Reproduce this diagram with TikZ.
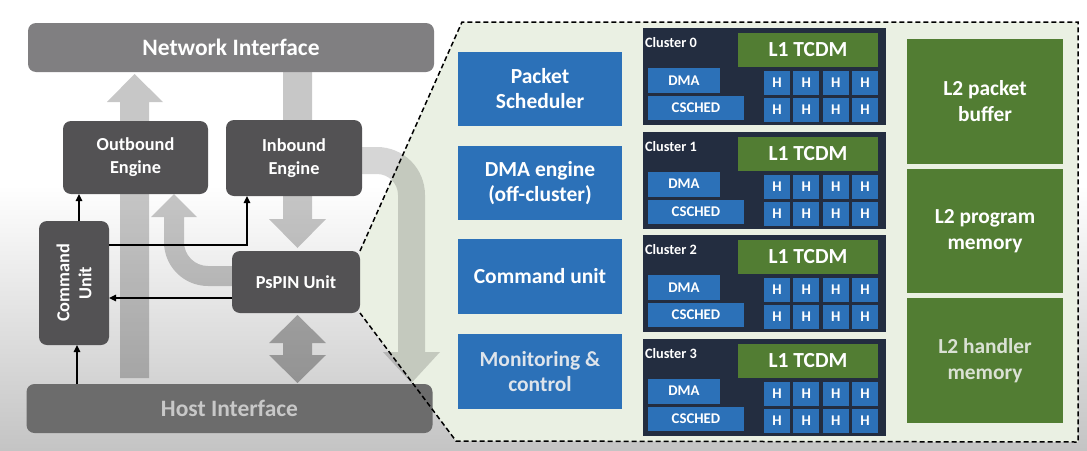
\documentclass[tikz,border=0pt]{standalone}
\usepackage{fontspec}
\setmainfont{Carlito}
\usetikzlibrary{arrows.meta,calc}
\definecolor{netgray}{RGB}{128,127,129}
\definecolor{hostgray}{RGB}{108,108,108}
\definecolor{boxgray}{RGB}{83,82,84}
\definecolor{pblue}{RGB}{44,113,184}
\definecolor{pnavy}{RGB}{35,45,64}
\definecolor{pgreen}{RGB}{82,125,51}
\definecolor{palegreen}{RGB}{234,240,227}
\definecolor{bottomgray}{RGB}{196,196,196}
\pgfdeclarelayer{bg}
\pgfdeclarelayer{arr}
\pgfsetlayers{bg,arr,main}
\begin{document}
\begin{tikzpicture}[x=1pt,y=-1pt,
  every node/.style={inner sep=0pt, outer sep=0pt, text=white, align=center},
  gbox/.style={fill=boxgray, rounded corners=8pt, font=\fontsize{18.3}{23}\selectfont\bfseries},
  ifbox/.style={rounded corners=8pt, minimum width=406pt, minimum height=49pt, font=\fontsize{23.5}{26}\selectfont\bfseries},
  bbox/.style={fill=pblue, minimum width=164pt, minimum height=74pt, font=\fontsize{21.5}{25}\selectfont\bfseries},
  clbox/.style={fill=pnavy, minimum width=243pt, minimum height=97pt, anchor=north west},
  cllabel/.style={font=\fontsize{14.3}{16}\selectfont\bfseries, anchor=west},
  tcdm/.style={fill=pgreen, minimum width=140pt, minimum height=34pt, anchor=north west, font=\fontsize{21.5}{23}\selectfont\bfseries},
  smallblue/.style={fill=pblue, anchor=north west, font=\fontsize{14.8}{16}\selectfont\bfseries},
  l2box/.style={fill=pgreen, minimum width=156pt, minimum height=125pt, font=\fontsize{21.4}{26}\selectfont\bfseries},
  blk/.style={draw=black, line width=1.4pt, -{Triangle[length=7pt,width=6.5pt]}},
  bigarrow/.style={fill=black, fill opacity=0.22},
  dashline/.style={draw=black, line width=1.5pt, dash pattern=on 5pt off 3pt}
]
\useasboundingbox (0,0) rectangle (1087,450);

% ---------- left part nodes ----------
\node[ifbox, fill=netgray] (net) at (231,47.5) {Network Interface};
\node[ifbox, fill=hostgray, text={rgb,255:red,200;green,200;blue,200}] (host) at (229.5,408.5) {Host Interface};
\node[gbox, minimum width=145pt, minimum height=73pt] (out) at (135.5,157.5) {Outbound\\Engine};
\node[gbox, minimum width=136pt, minimum height=76pt] (inb) at (294,158) {Inbound\\Engine};
\node[gbox, minimum width=70pt, minimum height=124pt] (cmd) at (74,283) {};
\node[rotate=90, font=\fontsize{18.3}{22}\selectfont\bfseries] (cmdt) at (cmd.center) {Command\\Unit};
\node[gbox, minimum width=128pt, minimum height=62pt] (psp) at (296,282) {PsPIN Unit};

% ---------- background ----------
\begin{pgfonlayer}{bg}
  \fill[white] (0,0) rectangle (1087,450);
  \shade[top color=white, bottom color=bottomgray] (0,185) rectangle (1087,450);
  \fill[palegreen] (psp.north east) -- (462,22) -- (1078,22) -- (1078,442) -- (456,441) -- (psp.south east) -- cycle;
\end{pgfonlayer}

% ---------- big translucent arrows ----------
\begin{pgfonlayer}{arr}
  % host -> network
  \fill[bigarrow] (120,378) -- (120,102) -- (107,102) -- (134.5,74) -- (163,102) -- (149,102) -- (149,378) -- cycle;
  % network -> inbound -> pspin
  \fill[bigarrow] (283,72) -- (283,219) -- (269,219) -- (297.5,248) -- (326,219) -- (312,219) -- (312,72) -- cycle;
  % pspin <-> host
  \fill[bigarrow, fill opacity=0.3] (297.5,315) -- (326,343) -- (312,343) -- (312,355) -- (326,355) -- (297.5,383)
     -- (269,355) -- (283,355) -- (283,343) -- (269,343) -- cycle;
  % pspin -> outbound (U-turn)
  \fill[bigarrow] (240,286) -- (208,286) arc[start angle=90, end angle=180, radius=44] -- (164,217) -- (151,217)
     -- (174,194) -- (197,217) -- (184,217) -- (184,242) arc[start angle=180, end angle=90, radius=24] -- (240,266) -- cycle;
  % inbound -> down (big U-turn)
  \fill[bigarrow, fill opacity=0.16] (355,147) -- (377,147) arc[start angle=270, end angle=360, radius=48] -- (425,352)
     -- (440,352) -- (411.5,383) -- (383,352) -- (398,352) -- (398,195) arc[start angle=0, end angle=-90, radius=21]
     -- (355,174) -- cycle;
\end{pgfonlayer}

% ---------- thin black arrows ----------
\coordinate (c1) at (79,0);
\coordinate (c2) at (247,245);
\coordinate (c3) at (0,298);
\coordinate (c4) at (77,0);
\draw[blk] (c1 |- cmd.north) -- (c1 |- out.south);
\draw[blk] (c2 -| cmd.east) -- (c2) -- (c2 |- inb.south);
\draw[blk] (c3 -| psp.west) -- (c3 -| cmd.east);
\draw[blk] (c4 |- host.north) -- (c4 |- cmd.south);

% ---------- dashed zoom outline ----------
\draw[dashline] (psp.north east) -- (462,22) -- (1078,22) -- (1078,442) -- (456,441) -- (psp.south east);

% ---------- blue function boxes ----------
\node[bbox] (b1) at (540,89) {Packet\\Scheduler};
\node[bbox] (b2) at (540,183) {DMA engine\\(off-cluster)};
\node[bbox, minimum height=75pt] (b3) at (540,276.5) {Command unit};
\node[bbox, minimum height=75pt, text={rgb,255:red,222;green,228;blue,235}] (b4) at (540,371.5) {Monitoring \&\\control};

% ---------- clusters ----------
\foreach \k/\T in {0/28,1/131.5,2/235,3/338.5} {
  \node[clbox] (cl\k) at (643,\T) {};
  \node[cllabel] (cll\k) at (645,\T+15) {Cluster \k};
  \node[tcdm] (tc\k) at (738,\T+5) {L1 TCDM};
  \node[smallblue, minimum width=72pt, minimum height=25pt] (dma\k) at (648,\T+40) {DMA};
  \node[smallblue, minimum width=96pt, minimum height=24pt] (cs\k) at (648,\T+68) {CSCHED};
  \foreach \c in {0,1,2,3} {
    \node[smallblue, minimum width=26pt, minimum height=24pt] (h\k a\c) at (764+\c*29.33,\T+43) {H};
    \node[smallblue, minimum width=26pt, minimum height=24pt] (h\k b\c) at (764+\c*29.33,\T+70) {H};
  }
}

% ---------- L2 memories ----------
\node[l2box] (l2a) at (985,101.5) {L2 packet\\buffer};
\node[l2box, minimum height=124pt] (l2b) at (985,231) {L2 program\\memory};
\node[l2box, text={rgb,255:red,218;green,225;blue,212}] (l2c) at (985,360.5) {L2 handler\\memory};
\end{tikzpicture}
\end{document}
